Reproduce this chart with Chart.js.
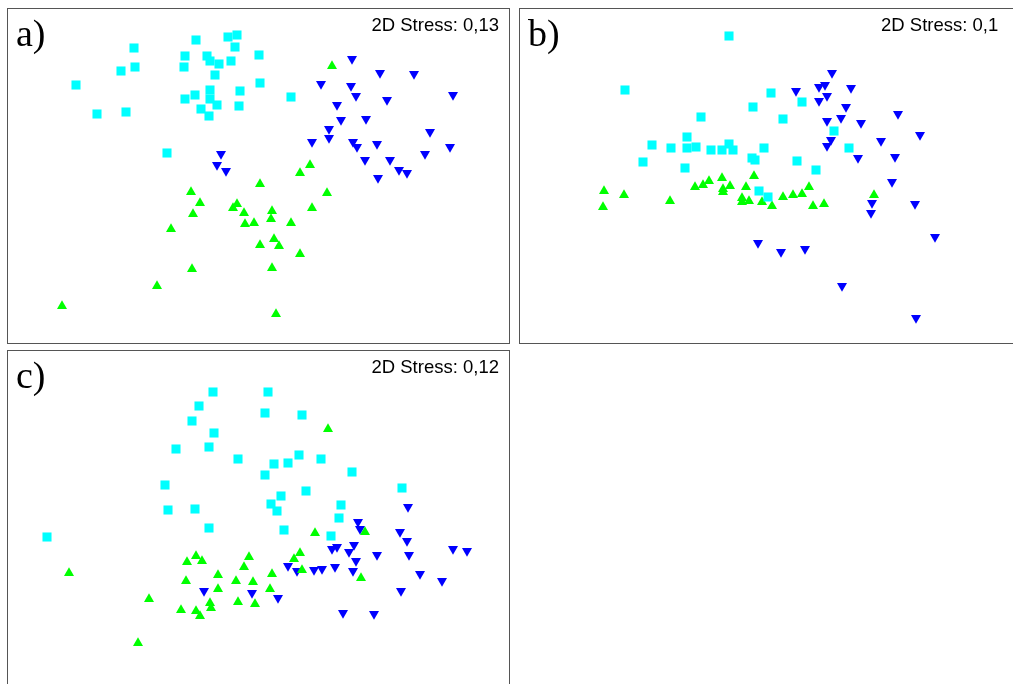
<!DOCTYPE html>
<html>
<head>
<meta charset="utf-8">
<script src="https://cdn.jsdelivr.net/npm/chart.js@4/dist/chart.umd.min.js"></script>
<style>
  html, body { margin: 0; padding: 0; background: #fff; overflow: hidden; }
  body { width: 1013px; height: 684px; position: relative; }
  .panel { position: absolute; border: 1px solid #555; box-sizing: border-box; background: #fff; }
  .panel .wrap { position: absolute; left: 0; top: 0; right: 0; bottom: 0; }
  .lbl { position: absolute; left: 8px; top: 2px; font-family: "Liberation Serif", "Times New Roman", serif; font-size: 38px; color: #000; }
  .stress { position: absolute; top: 5px; font-family: "Liberation Sans", Arial, sans-serif; font-size: 18.5px; color: #000; white-space: nowrap; }
</style>
</head>
<body>

<div class="panel" id="pa" style="left:7px; top:8px; width:503px; height:336px;">
  <div class="wrap"><canvas id="chartA"></canvas></div>
  <div class="lbl">a)</div>
  <div class="stress" style="right:10px;">2D Stress: 0,13</div>
</div>

<div class="panel" id="pb" style="left:519px; top:8px; width:503px; height:336px;">
  <div class="wrap"><canvas id="chartB"></canvas></div>
  <div class="lbl">b)</div>
  <div class="stress" style="left:361px;">2D Stress: 0,1</div>
</div>

<div class="panel" id="pc" style="left:7px; top:350px; width:503px; height:336px;">
  <div class="wrap"><canvas id="chartC"></canvas></div>
  <div class="lbl">c)</div>
  <div class="stress" style="right:10px;">2D Stress: 0,12</div>
</div>

<script>
// ordination coordinates (panel units, y down)

// a)
const aCyan = [[127,40],[189,32],[221,29],[230,27],[228,39],[252,47],[178,48],[200,48],[203,53],[212,56],[224,53],[177,59],[128,59],[114,63],[208,67],[69,77],[253,75],[203,82],[233,83],[188,87],[178,91],[203,91],[210,97],[232,98],[194,101],[202,108],[90,106],[119,104],[160,145],[284,89]];
const aBlue = [[214,146],[210,157],[219,163],[345,51],[373,65],[407,66],[314,76],[344,78],[349,88],[380,92],[446,87],[330,97],[334,112],[359,111],[322,121],[423,124],[322,130],[305,134],[346,134],[350,139],[370,136],[443,139],[418,146],[358,152],[383,152],[392,162],[400,165],[371,170]];
const aGreen = [[325,58],[303,157],[293,165],[253,176],[184,184],[320,185],[193,195],[230,196],[226,200],[186,206],[237,205],[265,203],[305,200],[264,211],[238,216],[247,215],[284,215],[164,221],[267,231],[253,237],[272,238],[293,246],[185,261],[265,260],[150,278],[55,298],[269,306]];

// b)
const bCyan = [[210,28],[106,82],[234,99],[182,109],[252,85],[168,129],[133,137],[152,140],[168,140],[177,139],[192,142],[203,142],[210,136],[214,142],[245,140],[124,154],[166,160],[233,150],[236,152],[240,183],[249,189],[297,162],[278,153],[283,94],[264,111],[315,123],[330,140]];
const bBlue = [[313,65],[306,77],[300,79],[332,80],[277,83],[308,88],[300,93],[327,99],[379,106],[322,110],[308,113],[342,115],[401,127],[312,132],[362,133],[308,138],[339,150],[376,149],[373,174],[353,195],[352,205],[396,196],[416,229],[239,235],[262,244],[286,241],[323,278],[397,310]];
const bGreen = [[85,183],[105,187],[84,199],[151,193],[176,179],[184,177],[190,173],[203,170],[211,178],[204,181],[204,184],[227,179],[235,168],[223,190],[230,193],[223,194],[243,194],[253,198],[264,189],[274,187],[283,186],[290,179],[294,198],[305,196],[355,187]];

// c)
const cCyan = [[206,42],[261,42],[192,56],[258,63],[185,71],[207,83],[169,99],[202,97],[231,109],[258,125],[158,135],[161,160],[188,159],[202,178],[295,65],[267,114],[281,113],[292,105],[314,109],[345,122],[395,138],[274,146],[299,141],[264,154],[270,161],[334,155],[332,168],[277,180],[324,186],[40,187]];
const cBlue = [[401,157],[351,172],[353,179],[393,182],[400,191],[325,199],[330,197],[347,195],[342,202],[370,205],[402,205],[446,199],[460,201],[349,211],[281,216],[290,221],[307,220],[315,219],[328,217],[346,221],[413,224],[435,231],[394,241],[271,248],[336,263],[367,264],[197,241],[245,243]];
const cGreen = [[321,79],[308,183],[358,182],[293,203],[287,209],[295,220],[354,228],[265,224],[263,239],[62,223],[142,249],[131,293],[180,212],[189,206],[195,211],[179,231],[211,225],[211,239],[203,253],[204,258],[174,260],[189,261],[193,266],[242,207],[237,217],[229,231],[246,232],[231,252],[248,254]];

const CYAN = '#00ffff';
const GREEN = '#00ff00';
const BLUE = '#0000ff';

function pts(arr) {
    return arr.map(p => ({x: p[0], y: p[1]}));
}

function grupo(data, color, style, rot, r) {
    return {
        data: pts(data),
        pointStyle: style,
        rotation: rot,
        pointRadius: r,
        pointHoverRadius: r,
        backgroundColor: color,
        borderColor: color,
        borderWidth: 0,
        showLine: false
    };
}

function dibujar(id, cyan, green, blue) {
    const ctx = document.getElementById(id);
    return new Chart(ctx, {
        type: 'scatter',
        data: {
            datasets: [
                grupo(cyan, CYAN, 'rect', 0, 6.4),
                grupo(green, GREEN, 'triangle', 0, 5.8),
                grupo(blue, BLUE, 'triangle', 180, 5.8)
            ]
        },
        options: {
            responsive: true,
            maintainAspectRatio: false,
            animation: false,
            layout: {padding: 0, autoPadding: false},
            plugins: {legend: {display: false}, tooltip: {enabled: false}},
            scales: {
                x: {type: 'linear', min: 1, max: 502, display: false},
                y: {type: 'linear', min: 1, max: 335, reverse: true, display: false}
            }
        }
    });
}

dibujar('chartA', aCyan, aGreen, aBlue);
dibujar('chartB', bCyan, bGreen, bBlue);
dibujar('chartC', cCyan, cGreen, cBlue);
</script>
</body>
</html>
